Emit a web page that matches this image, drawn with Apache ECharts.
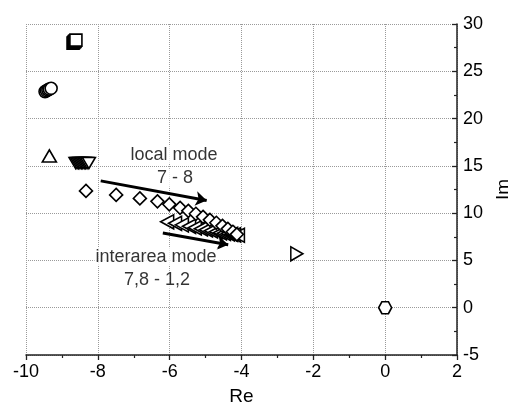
<!DOCTYPE html>
<html>
<head>
<meta charset="utf-8">
<script src="https://cdn.jsdelivr.net/npm/echarts@6/dist/echarts.min.js"></script>
<style>
  html, body { margin: 0; padding: 0; background: #fff; }
  #chart { width: 508px; height: 405px; }
</style>
</head>
<body>
<div id="chart"></div>
<script>
// Eigenvalues in the complex plane (Re, Im)
const squarePts = [[-8.69, 27.98], [-8.67, 28.06], [-8.65, 28.14], [-8.63, 28.22], [-8.61, 28.30]];
const circlePts = [[-9.47, 22.85], [-9.43, 22.94], [-9.39, 23.03], [-9.35, 23.11], [-9.30, 23.20]];
const triUpPts = [[-9.35, 16.05]];
const triDownPts = [[-8.62, 15.30], [-8.58, 15.30], [-8.54, 15.30], [-8.50, 15.30], [-8.46, 15.30],
                    [-8.42, 15.30], [-8.38, 15.30], [-8.34, 15.30], [-8.30, 15.30], [-8.25, 15.30]];
const diamondPts = [[-8.33, 12.35], [-7.49, 11.93], [-6.83, 11.56], [-6.34, 11.25], [-6.01, 10.93],
                    [-5.71, 10.56], [-5.48, 10.24], [-5.27, 9.93], [-5.07, 9.61], [-4.88, 9.29],
                    [-4.70, 8.98], [-4.53, 8.66], [-4.38, 8.34], [-4.24, 8.03], [-4.13, 7.76]];
const triLeftPts = [[-6.07, 9.08], [-5.85, 8.92], [-5.66, 8.76], [-5.46, 8.61], [-5.30, 8.45],
                    [-5.13, 8.34], [-4.99, 8.24], [-4.85, 8.13], [-4.71, 8.03], [-4.60, 7.92],
                    [-4.49, 7.87], [-4.38, 7.81], [-4.29, 7.76], [-4.21, 7.71], [-4.10, 7.66]];
const triRightPts = [[-2.46, 5.70]];
const hexPts = [[0, 0]];

// Trend arrows (start, end) in data coordinates
const arrowLocal = [[-7.92, 13.41], [-4.97, 11.33]];
const arrowInterarea = [[-6.19, 7.89], [-4.37, 6.65]];

// Annotation texts and their anchor points
const noteTexts = ['local mode', '7 - 8', 'interarea mode', '7,8 - 1,2'];
const noteAnchors = [[-5.88, 16.16], [-5.85, 13.73], [-6.38, 5.39], [-6.35, 2.96]];

// Axis ranges
const xRange = { min: -10, max: 2, step: 2 };
const yRange = { min: -5, max: 30, step: 5 };

const FONT = 'Liberation Sans, Arial, Helvetica, sans-serif';
const hexPath = 'path://M-1,0 L-0.5,-0.866 L0.5,-0.866 L1,0 L0.5,0.866 L-0.5,0.866 Z';

function markerSeries(name, data, symbol, size, rotate) {
  return {
    name: name,
    type: 'scatter',
    data: data,
    symbol: symbol,
    symbolSize: size,
    symbolRotate: rotate || 0,
    itemStyle: { color: '#fff', borderColor: '#000', borderWidth: 1.6, opacity: 1 },
    emphasis: { disabled: true },
    z: 3
  };
}

const chart = echarts.init(document.getElementById('chart'), null, { renderer: 'canvas' });

chart.setOption({
  animation: false,
  backgroundColor: '#fff',
  grid: { left: 26, right: 51, top: 24, bottom: 50, containLabel: false, outerBoundsMode: 'none' },
  xAxis: {
    type: 'value',
    min: xRange.min, max: xRange.max, interval: xRange.step,
    position: 'bottom',
    name: 'Re',
    nameLocation: 'middle',
    nameGap: 32,
    nameTextStyle: { fontFamily: FONT, fontSize: 19, color: '#000' },
    axisLine: { show: true, onZero: false, lineStyle: { color: '#222', width: 1.5 } },
    axisTick: { show: true, inside: false, length: 5, lineStyle: { color: '#222', width: 1.3 } },
    minorTick: { show: true, splitNumber: 2, length: 3, lineStyle: { color: '#222', width: 1.2 } },
    axisLabel: { fontFamily: FONT, fontSize: 18, color: '#000', margin: 8 },
    splitLine: { show: true, lineStyle: { color: '#9a9a9a', type: 'dotted', width: 1 } }
  },
  yAxis: {
    type: 'value',
    min: yRange.min, max: yRange.max, interval: yRange.step,
    position: 'right',
    name: 'Im',
    nameLocation: 'middle',
    nameGap: 37,
    nameRotate: 90,
    nameTextStyle: { fontFamily: FONT, fontSize: 19, color: '#000' },
    axisLine: { show: true, onZero: false, lineStyle: { color: '#222', width: 1.5 } },
    axisTick: { show: true, inside: true, length: 5, lineStyle: { color: '#222', width: 1.3 } },
    minorTick: { show: true, splitNumber: 2, length: 3, lineStyle: { color: '#222', width: 1.2 } },
    axisLabel: { fontFamily: FONT, fontSize: 18, color: '#000', margin: 6, align: 'left' },
    splitLine: { show: true, lineStyle: { color: '#9a9a9a', type: 'dotted', width: 1 } }
  },
  series: [
    markerSeries('square', squarePts, 'rect', 12),
    markerSeries('circle', circlePts, 'circle', 12),
    markerSeries('triUp', triUpPts, 'triangle', [14, 12]),
    markerSeries('triDown', triDownPts, 'triangle', [13, 11], 180),
    markerSeries('triLeft', triLeftPts, 'triangle', [14, 13], 90),
    markerSeries('diamond', diamondPts, 'diamond', [13, 13]),
    markerSeries('triRight', triRightPts, 'triangle', [14, 12], -90),
    markerSeries('hexagon', hexPts, hexPath, [13, 12]),
    {
      name: 'arrows',
      type: 'lines',
      coordinateSystem: 'cartesian2d',
      data: [{ coords: arrowLocal }, { coords: arrowInterarea }],
      symbol: ['none', 'arrow'],
      symbolSize: [7, 11],
      lineStyle: { color: '#000', width: 3, opacity: 1 },
      silent: true,
      z: 4
    },
    {
      name: 'notes',
      type: 'scatter',
      data: noteAnchors.map((p, i) => ({ value: p, label: { formatter: noteTexts[i] } })),
      symbolSize: 0.01,
      itemStyle: { color: 'rgba(0,0,0,0)' },
      label: {
        show: true,
        position: 'inside',
        fontFamily: FONT,
        fontSize: 18,
        color: '#000',
        backgroundColor: '#fff',
        padding: [0, 1]
      },
      silent: true,
      z: 5
    }
  ]
});
</script>
</body>
</html>
